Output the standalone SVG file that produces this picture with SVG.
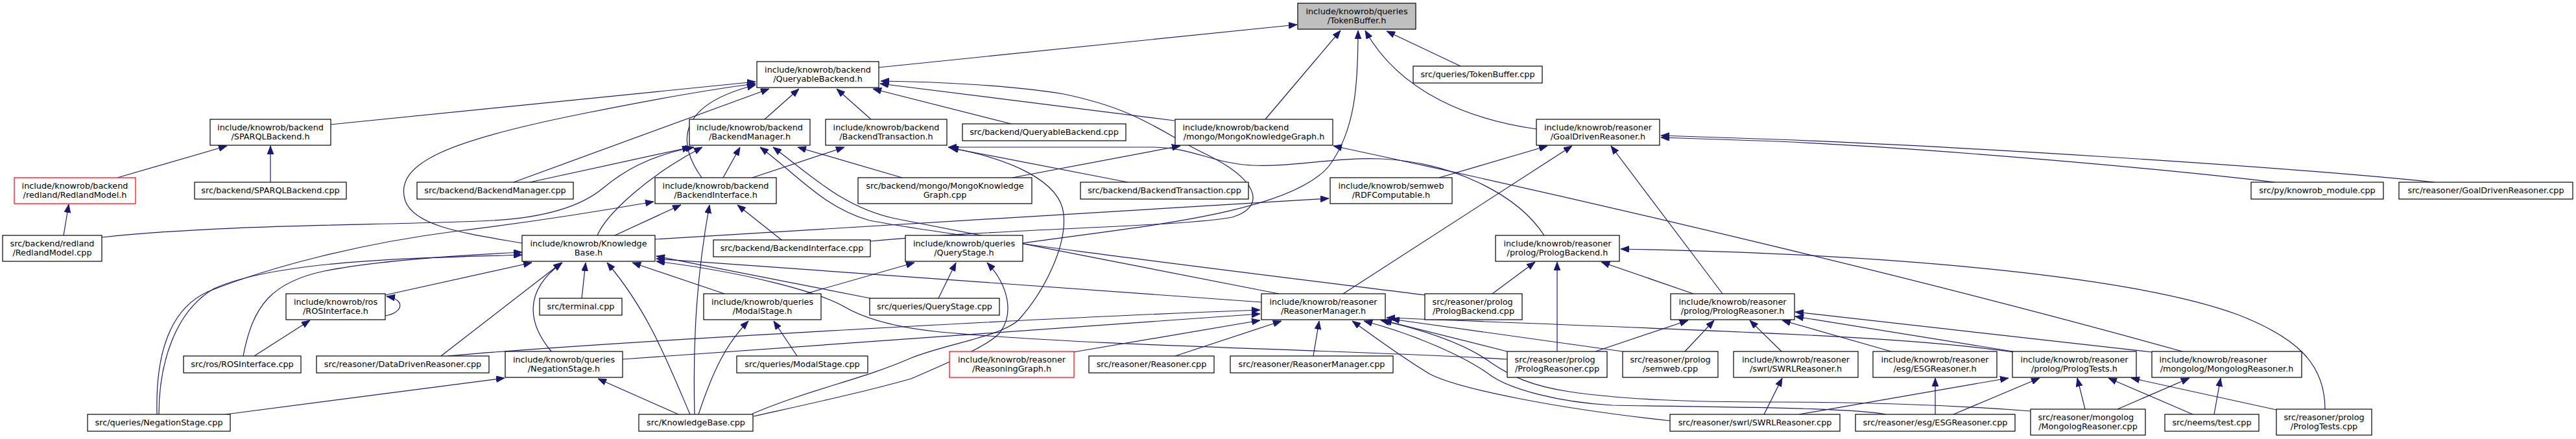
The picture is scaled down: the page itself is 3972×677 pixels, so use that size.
<svg xmlns="http://www.w3.org/2000/svg" width="3972" height="677" viewBox="0 0 3972 677">
<style>
.n rect{fill:#fff;stroke:#000;stroke-width:1.2}
.n.r rect{stroke:#ff0000}
.n.g rect{fill:#bfbfbf}
text{font-family:"DejaVu Sans","Liberation Sans",sans-serif;font-size:12.8px;fill:#000}
.c{text-anchor:middle}
#edges path{fill:none;stroke:#191970;stroke-width:1.2;marker-end:url(#ah)}
</style>
<defs>
<marker id="ah" viewBox="0 0 13 10" refX="13" refY="5" markerWidth="13" markerHeight="10" markerUnits="userSpaceOnUse" orient="auto"><path d="M0,0 L13,5 L0,10 Z" fill="#191970" stroke="#191970" stroke-width="0.8"/></marker>
</defs>
<rect x="0" y="0" width="3972" height="677" fill="#fff"/>
<g id="edges">
<path d="M1355,104 L2000,38"/>
<path d="M1951,184 L2067,47"/>
<path d="M1577,375 C1750,350 1990,330 2050,255 C2090,200 2094,130 2094,47"/>
<path d="M2369,199 C2270,185 2160,145 2105,47"/>
<path d="M2252,102 L2138,48"/>
<path d="M510,192 L1165,126"/>
<path d="M805,375 C720,360 640,350 625,310 C605,250 700,215 900,175 C1000,155 1100,137 1165,129"/>
<path d="M1082,274 C1040,215 1050,160 1165,131"/>
<path d="M792,281 L1186,137"/>
<path d="M1179,184 L1232,137"/>
<path d="M1343,184 L1290,137"/>
<path d="M1563,192 L1346,137"/>
<path d="M1811,186 L1357,129"/>
<path d="M1342,372 C1550,352 1820,350 1900,335 C1950,320 1945,280 1860,238 C1790,205 1760,170 1640,145 C1560,132 1450,126 1358,125"/>
<path d="M817,281 L1065,227"/>
<path d="M157,366 C350,345 600,348 760,340 C850,335 900,315 930,290 C960,265 1000,240 1070,227"/>
<path d="M921,363 C935,330 1000,270 1083,227"/>
<path d="M1115,274 L1141,227"/>
<path d="M2197,455 C2000,430 1500,370 1341,340 C1270,320 1230,270 1172,227"/>
<path d="M1972,453 C1800,420 1500,360 1380,337 C1300,320 1250,270 1192,227"/>
<path d="M1391,274 L1230,227"/>
<path d="M1160,274 L1302,227"/>
<path d="M2381,363 C2340,300 2240,250 2130,245 C2060,242 1990,258 1931,255 C1870,252 1840,228 1780,227 L1462,227"/>
<path d="M1160,638 C1250,600 1330,585 1405,552 C1460,530 1540,520 1570,494 C1610,450 1645,380 1640,330 C1635,280 1560,245 1464,228"/>
<path d="M1739,281 L1465,228"/>
<path d="M1242,453 L1410,405"/>
<path d="M1447,460 L1474,405"/>
<path d="M1162,642 C1260,620 1330,605 1405,584 C1460,560 1520,535 1540,515 C1565,485 1555,440 1522,405"/>
<path d="M375,549 C390,470 420,435 500,418 C580,402 700,394 805,389"/>
<path d="M245,639 C245,560 270,480 330,445 C430,400 650,398 805,393"/>
<path d="M242,639 C240,560 255,480 320,450 C420,410 560,375 700,357 C800,345 900,330 1008,311"/>
<path d="M594,455 L820,405"/>
<path d="M680,549 L866,405"/>
<path d="M850,542 C815,500 805,450 867,405"/>
<path d="M897,460 L903,405"/>
<path d="M1064,639 C1030,560 1000,480 936,405"/>
<path d="M1117,453 L975,405"/>
<path d="M1945,466 L1012,399"/>
<path d="M1342,460 L1012,395"/>
<path d="M2324,554 C2100,540 1700,535 1450,512 C1380,505 1330,490 1300,472 C1260,450 1150,420 1012,403"/>
<path d="M1010,369 L2049,306"/>
<path d="M948,363 L1050,316"/>
<path d="M1071,639 C1068,520 1075,420 1094,316"/>
<path d="M1205,370 L1137,316"/>
<path d="M1046,639 L922,584"/>
<path d="M348,639 L778,583"/>
<path d="M1077,639 C1100,570 1120,530 1154,495"/>
<path d="M1229,549 L1193,495"/>
<path d="M392,549 L478,494"/>
<path d="M594,487 C622,482 626,462 596,457"/>
<path d="M690,549 C900,530 1600,490 1943,478"/>
<path d="M960,554 L1943,484"/>
<path d="M1655,543 L1943,494"/>
<path d="M1812,549 L1976,495"/>
<path d="M2025,549 L2034,495"/>
<path d="M2576,649 C2400,630 2250,600 2205,577 C2160,550 2120,520 2085,495"/>
<path d="M2908,639 C2850,628 2650,628 2486,625 C2400,620 2330,600 2300,580 C2260,550 2180,515 2103,495"/>
<path d="M3132,634 C3000,624 2850,620 2740,620 C2600,620 2500,616 2420,604 C2360,595 2330,580 2300,560 C2260,530 2200,510 2129,494"/>
<path d="M2502,542 L2145,492"/>
<path d="M3104,543 C2950,520 2700,512 2138,490"/>
<path d="M2324,542 L2133,494"/>
<path d="M2071,453 L2424,225"/>
<path d="M2219,274 L2386,225"/>
<path d="M2656,453 L2484,225"/>
<path d="M3508,281 C3350,262 3000,230 2740,218 L2561,212"/>
<path d="M3754,281 C3500,255 3000,225 2740,215 L2561,209"/>
<path d="M2301,453 L2367,404"/>
<path d="M2401,542 L2401,404"/>
<path d="M2611,453 L2469,404"/>
<path d="M3585,631 C3585,560 3540,520 3450,485 C3300,430 2950,392 2499,384"/>
<path d="M2460,542 L2603,494"/>
<path d="M2598,542 L2643,494"/>
<path d="M2747,542 L2698,494"/>
<path d="M3318,543 L2768,481"/>
<path d="M3104,542 L2768,488"/>
<path d="M2916,542 L2748,494"/>
<path d="M1561,274 L1820,225"/>
<path d="M3365,542 C3000,440 2500,320 2056,225"/>
<path d="M2720,639 L2748,583"/>
<path d="M2984,639 L2984,583"/>
<path d="M2774,639 L3097,583"/>
<path d="M3012,639 L3145,583"/>
<path d="M3215,631 L3203,583"/>
<path d="M3381,639 L3251,583"/>
<path d="M3510,632 L3286,583"/>
<path d="M3265,631 L3376,583"/>
<path d="M3414,639 L3424,583"/>
<path d="M98,363 L106,315"/>
<path d="M181,274 L350,225"/>
<path d="M417,281 L417,225"/>
</g>
<g id="TB" class="n g"><rect x="2001" y="5" width="182" height="40"/><text class="c" x="2092" y="21.5">include/knowrob/queries</text><text class="c" x="2092" y="36">/TokenBuffer.h</text></g>
<g id="QB" class="n"><rect x="1167" y="95" width="188" height="40"/><text class="c" x="1261" y="111.5">include/knowrob/backend</text><text class="c" x="1261" y="126">/QueryableBackend.h</text></g>
<g id="TBcpp" class="n"><rect x="2179" y="102" width="199" height="26"/><text class="c" x="2278.5" y="119.3">src/queries/TokenBuffer.cpp</text></g>
<g id="GDR" class="n"><rect x="2369" y="184" width="190" height="40"/><text class="c" x="2464" y="200.5">include/knowrob/reasoner</text><text class="c" x="2464" y="215">/GoalDrivenReasoner.h</text></g>
<g id="SPB" class="n"><rect x="324" y="184" width="186" height="40"/><text class="c" x="417" y="200.5">include/knowrob/backend</text><text class="c" x="417" y="215">/SPARQLBackend.h</text></g>
<g id="BM" class="n"><rect x="1063" y="184" width="186" height="40"/><text class="c" x="1156" y="200.5">include/knowrob/backend</text><text class="c" x="1156" y="215">/BackendManager.h</text></g>
<g id="BT" class="n"><rect x="1273" y="184" width="187" height="40"/><text class="c" x="1366.5" y="200.5">include/knowrob/backend</text><text class="c" x="1366.5" y="215">/BackendTransaction.h</text></g>
<g id="QBcpp" class="n"><rect x="1484" y="191" width="252" height="26"/><text class="c" x="1610" y="208.3">src/backend/QueryableBackend.cpp</text></g>
<g id="MKG" class="n"><rect x="1812" y="184" width="243" height="40"/><text x="1823.5" y="200.5">include/knowrob/backend</text><text class="c" x="1933.5" y="215">/mongo/MongoKnowledgeGraph.h</text></g>
<g id="RM" class="n r"><rect x="22" y="274" width="187" height="40"/><text class="c" x="115.5" y="290.5">include/knowrob/backend</text><text class="c" x="115.5" y="305">/redland/RedlandModel.h</text></g>
<g id="SPBcpp" class="n"><rect x="300" y="281" width="234" height="26"/><text class="c" x="417" y="298.3">src/backend/SPARQLBackend.cpp</text></g>
<g id="BMcpp" class="n"><rect x="643" y="281" width="241" height="26"/><text class="c" x="763.5" y="298.3">src/backend/BackendManager.cpp</text></g>
<g id="BI" class="n"><rect x="1010" y="274" width="187" height="40"/><text class="c" x="1103.5" y="290.5">include/knowrob/backend</text><text class="c" x="1103.5" y="305">/BackendInterface.h</text></g>
<g id="MKGcpp" class="n"><rect x="1323" y="274" width="268" height="40"/><text class="c" x="1457" y="290.5">src/backend/mongo/MongoKnowledge</text><text class="c" x="1457" y="305">Graph.cpp</text></g>
<g id="BTcpp" class="n"><rect x="1666" y="281" width="259" height="26"/><text class="c" x="1795.5" y="298.3">src/backend/BackendTransaction.cpp</text></g>
<g id="RDF" class="n"><rect x="2051" y="274" width="188" height="40"/><text class="c" x="2145" y="290.5">include/knowrob/semweb</text><text class="c" x="2145" y="305">/RDFComputable.h</text></g>
<g id="PYcpp" class="n"><rect x="3471" y="281" width="204" height="26"/><text class="c" x="3573" y="298.3">src/py/knowrob_module.cpp</text></g>
<g id="GDRcpp" class="n"><rect x="3699" y="281" width="268" height="26"/><text class="c" x="3833" y="298.3">src/reasoner/GoalDrivenReasoner.cpp</text></g>
<g id="RMcpp" class="n"><rect x="4" y="363" width="153" height="40"/><text class="c" x="80.5" y="379.5">src/backend/redland</text><text class="c" x="80.5" y="394">/RedlandModel.cpp</text></g>
<g id="KB" class="n"><rect x="805" y="363" width="205" height="40"/><text class="c" x="907.5" y="379.5">include/knowrob/Knowledge</text><text class="c" x="907.5" y="394">Base.h</text></g>
<g id="BIcpp" class="n"><rect x="1100" y="370" width="242" height="26"/><text class="c" x="1221" y="387.3">src/backend/BackendInterface.cpp</text></g>
<g id="QS" class="n"><rect x="1396" y="363" width="181" height="40"/><text class="c" x="1486.5" y="379.5">include/knowrob/queries</text><text class="c" x="1486.5" y="394">/QueryStage.h</text></g>
<g id="PB" class="n"><rect x="2306" y="363" width="191" height="40"/><text class="c" x="2401.5" y="379.5">include/knowrob/reasoner</text><text class="c" x="2401.5" y="394">/prolog/PrologBackend.h</text></g>
<g id="ROS" class="n"><rect x="441" y="453" width="153" height="40"/><text class="c" x="517.5" y="469.5">include/knowrob/ros</text><text class="c" x="517.5" y="484">/ROSInterface.h</text></g>
<g id="TERM" class="n"><rect x="832" y="460" width="127" height="26"/><text class="c" x="895.5" y="477.3">src/terminal.cpp</text></g>
<g id="MS" class="n"><rect x="1085" y="453" width="181" height="40"/><text class="c" x="1175.5" y="469.5">include/knowrob/queries</text><text class="c" x="1175.5" y="484">/ModalStage.h</text></g>
<g id="QScpp" class="n"><rect x="1341" y="460" width="200" height="26"/><text class="c" x="1441" y="477.3">src/queries/QueryStage.cpp</text></g>
<g id="RMgr" class="n"><rect x="1945" y="453" width="191" height="40"/><text class="c" x="2040.5" y="469.5">include/knowrob/reasoner</text><text class="c" x="2040.5" y="484">/ReasonerManager.h</text></g>
<g id="PBcpp" class="n"><rect x="2197" y="453" width="150" height="40"/><text x="2208.5" y="469.5">src/reasoner/prolog</text><text class="c" x="2272" y="484">/PrologBackend.cpp</text></g>
<g id="PR" class="n"><rect x="2576" y="453" width="191" height="40"/><text class="c" x="2671.5" y="469.5">include/knowrob/reasoner</text><text class="c" x="2671.5" y="484">/prolog/PrologReasoner.h</text></g>
<g id="ROScpp" class="n"><rect x="283" y="549" width="181" height="26"/><text class="c" x="373.5" y="566.3">src/ros/ROSInterface.cpp</text></g>
<g id="DDRcpp" class="n"><rect x="488" y="549" width="266" height="26"/><text class="c" x="621" y="566.3">src/reasoner/DataDrivenReasoner.cpp</text></g>
<g id="NS" class="n"><rect x="779" y="542" width="181" height="40"/><text class="c" x="869.5" y="558.5">include/knowrob/queries</text><text class="c" x="869.5" y="573">/NegationStage.h</text></g>
<g id="MScpp" class="n"><rect x="1136" y="549" width="202" height="26"/><text class="c" x="1237" y="566.3">src/queries/ModalStage.cpp</text></g>
<g id="RG" class="n r"><rect x="1464" y="542" width="192" height="40"/><text class="c" x="1560" y="558.5">include/knowrob/reasoner</text><text class="c" x="1560" y="573">/ReasoningGraph.h</text></g>
<g id="Rcpp" class="n"><rect x="1679" y="549" width="193" height="26"/><text class="c" x="1775.5" y="566.3">src/reasoner/Reasoner.cpp</text></g>
<g id="RMgrcpp" class="n"><rect x="1897" y="549" width="251" height="26"/><text class="c" x="2022.5" y="566.3">src/reasoner/ReasonerManager.cpp</text></g>
<g id="PRcpp" class="n"><rect x="2324" y="542" width="154" height="40"/><text x="2335.5" y="558.5">src/reasoner/prolog</text><text class="c" x="2401" y="573">/PrologReasoner.cpp</text></g>
<g id="SWcpp" class="n"><rect x="2502" y="542" width="147" height="40"/><text class="c" x="2575.5" y="558.5">src/reasoner/prolog</text><text class="c" x="2575.5" y="573">/semweb.cpp</text></g>
<g id="SWRL" class="n"><rect x="2673" y="542" width="192" height="40"/><text class="c" x="2769" y="558.5">include/knowrob/reasoner</text><text class="c" x="2769" y="573">/swrl/SWRLReasoner.h</text></g>
<g id="ESG" class="n"><rect x="2888" y="542" width="191" height="40"/><text class="c" x="2983.5" y="558.5">include/knowrob/reasoner</text><text class="c" x="2983.5" y="573">/esg/ESGReasoner.h</text></g>
<g id="PT" class="n"><rect x="3103" y="542" width="191" height="40"/><text class="c" x="3198.5" y="558.5">include/knowrob/reasoner</text><text class="c" x="3198.5" y="573">/prolog/PrologTests.h</text></g>
<g id="MR" class="n"><rect x="3318" y="542" width="231" height="40"/><text x="3329.5" y="558.5">include/knowrob/reasoner</text><text class="c" x="3433.5" y="573">/mongolog/MongologReasoner.h</text></g>
<g id="NScpp" class="n"><rect x="135" y="639" width="220" height="26"/><text class="c" x="245" y="656.3">src/queries/NegationStage.cpp</text></g>
<g id="KBcpp" class="n"><rect x="985" y="639" width="176" height="26"/><text class="c" x="1073" y="656.3">src/KnowledgeBase.cpp</text></g>
<g id="SWRLcpp" class="n"><rect x="2575" y="639" width="262" height="26"/><text class="c" x="2706" y="656.3">src/reasoner/swrl/SWRLReasoner.cpp</text></g>
<g id="ESGcpp" class="n"><rect x="2861" y="639" width="246" height="26"/><text class="c" x="2984" y="656.3">src/reasoner/esg/ESGReasoner.cpp</text></g>
<g id="MRcpp" class="n"><rect x="3131" y="631" width="177" height="40"/><text x="3142.5" y="647.5">src/reasoner/mongolog</text><text class="c" x="3219.5" y="662">/MongologReasoner.cpp</text></g>
<g id="NEEMS" class="n"><rect x="3338" y="639" width="145" height="26"/><text class="c" x="3410.5" y="656.3">src/neems/test.cpp</text></g>
<g id="PTcpp" class="n"><rect x="3510" y="631" width="147" height="40"/><text class="c" x="3583.5" y="647.5">src/reasoner/prolog</text><text class="c" x="3583.5" y="662">/PrologTests.cpp</text></g>
</svg>
